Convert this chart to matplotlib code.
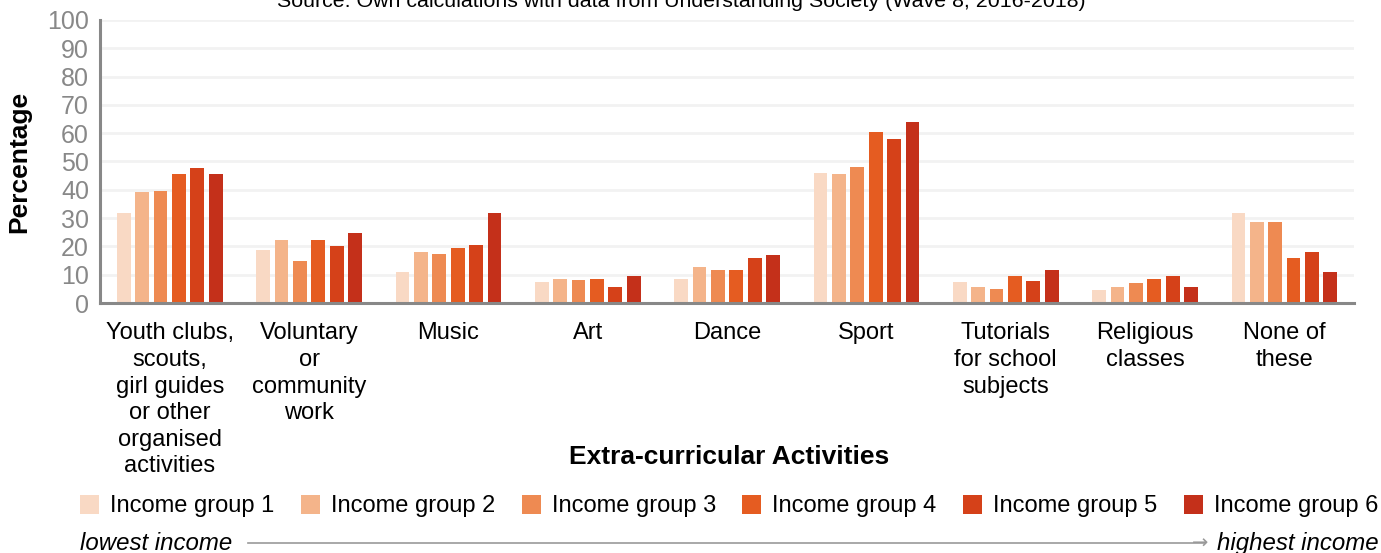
import numpy as np
import matplotlib.pyplot as plt
from matplotlib.patches import Patch

plt.rcParams['font.family'] = ['Liberation Sans', 'DejaVu Sans']

activities = ['Youth clubs,\nscouts,\ngirl guides\nor other\norganised\nactivities',
              'Voluntary\nor\ncommunity\nwork', 'Music', 'Art', 'Dance', 'Sport',
              'Tutorials\nfor school\nsubjects', 'Religious\nclasses', 'None of\nthese']
groups = ['Income group 1', 'Income group 2', 'Income group 3',
          'Income group 4', 'Income group 5', 'Income group 6']
g1 = [31.8, 18.6, 10.8, 7.6, 8.6, 46.0, 7.6, 4.7, 31.8]
g2 = [39.2, 22.2, 17.9, 8.6, 12.9, 45.6, 5.8, 5.5, 28.6]
g3 = [39.6, 15.0, 17.2, 8.3, 11.8, 48.1, 5.1, 7.2, 28.6]
g4 = [45.7, 22.2, 19.3, 8.6, 11.8, 60.5, 9.7, 8.6, 15.8]
g5 = [47.7, 20.0, 20.4, 5.5, 15.8, 58.1, 7.9, 9.7, 17.9]
g6 = [45.7, 24.6, 31.8, 9.7, 16.8, 64.1, 11.5, 5.5, 11.1]
colors = ['#f9d9c4', '#f4b48a', '#ee8a52', '#e55c21', '#d54119', '#c4301a']

fig = plt.figure(figsize=(13.81, 5.53), dpi=100)
ax = fig.add_axes([0.0725, 0.452, 0.908, 0.512])

x = np.arange(len(activities))
step = 0.132
for i, vals in enumerate([g1, g2, g3, g4, g5, g6]):
    ax.bar(x + (i - 2.5) * step, vals, width=0.099, color=colors[i], zorder=3)

ax.set_xlim(-0.5, 8.5)
ax.set_ylim(0, 100)
ax.set_yticks(range(0, 101, 10))
ax.grid(axis='y', color='#f2f2f2', linewidth=2, zorder=0)
for s in ['top', 'right']:
    ax.spines[s].set_visible(False)
for s in ['left', 'bottom']:
    ax.spines[s].set_color('#888888')
    ax.spines[s].set_linewidth(2.2)
    ax.spines[s].set_zorder(4)
ax.tick_params(axis='y', length=0, labelsize=18, labelcolor='#888888', pad=8)
ax.set_xticks(x)
ax.set_xticklabels(activities, fontsize=17, linespacing=1.27, va='top')
ax.tick_params(axis='x', length=0, pad=14)

ax.set_ylabel('Percentage', fontsize=19, fontweight='bold')
ax.yaxis.set_label_coords(-0.055, 0.498)
fig.text(0.528, 0.174, 'Extra-curricular Activities', fontsize=19, fontweight='bold',
         ha='center', va='center')

fig.text(0.493, 0.998, 'Source: Own calculations with data from Understanding Society (Wave 8, 2016-2018)',
         fontsize=15.4, ha='center', va='center')

handles = [Patch(facecolor=c, edgecolor='none') for c in colors]
fig.legend(handles, groups, loc='center', bbox_to_anchor=(0.528, 0.085), ncol=6,
           frameon=False, fontsize=17, handlelength=0.8, handleheight=0.9,
           handletextpad=0.47, columnspacing=1.12, borderpad=0.1)

fig.text(0.058, 0.018, 'lowest income', fontsize=17.3, style='italic', ha='left', va='center')
fig.text(0.998, 0.018, 'highest income', fontsize=17.3, style='italic', ha='right', va='center')
fig.add_artist(plt.Line2D([0.1795, 0.872], [0.018, 0.018], color='#999999', linewidth=1.2))
fig.text(0.875, 0.018, '\u2192', fontsize=14, color='#999999', ha='right', va='center',
         family='DejaVu Sans')

fig.savefig('out.png', dpi=100)
